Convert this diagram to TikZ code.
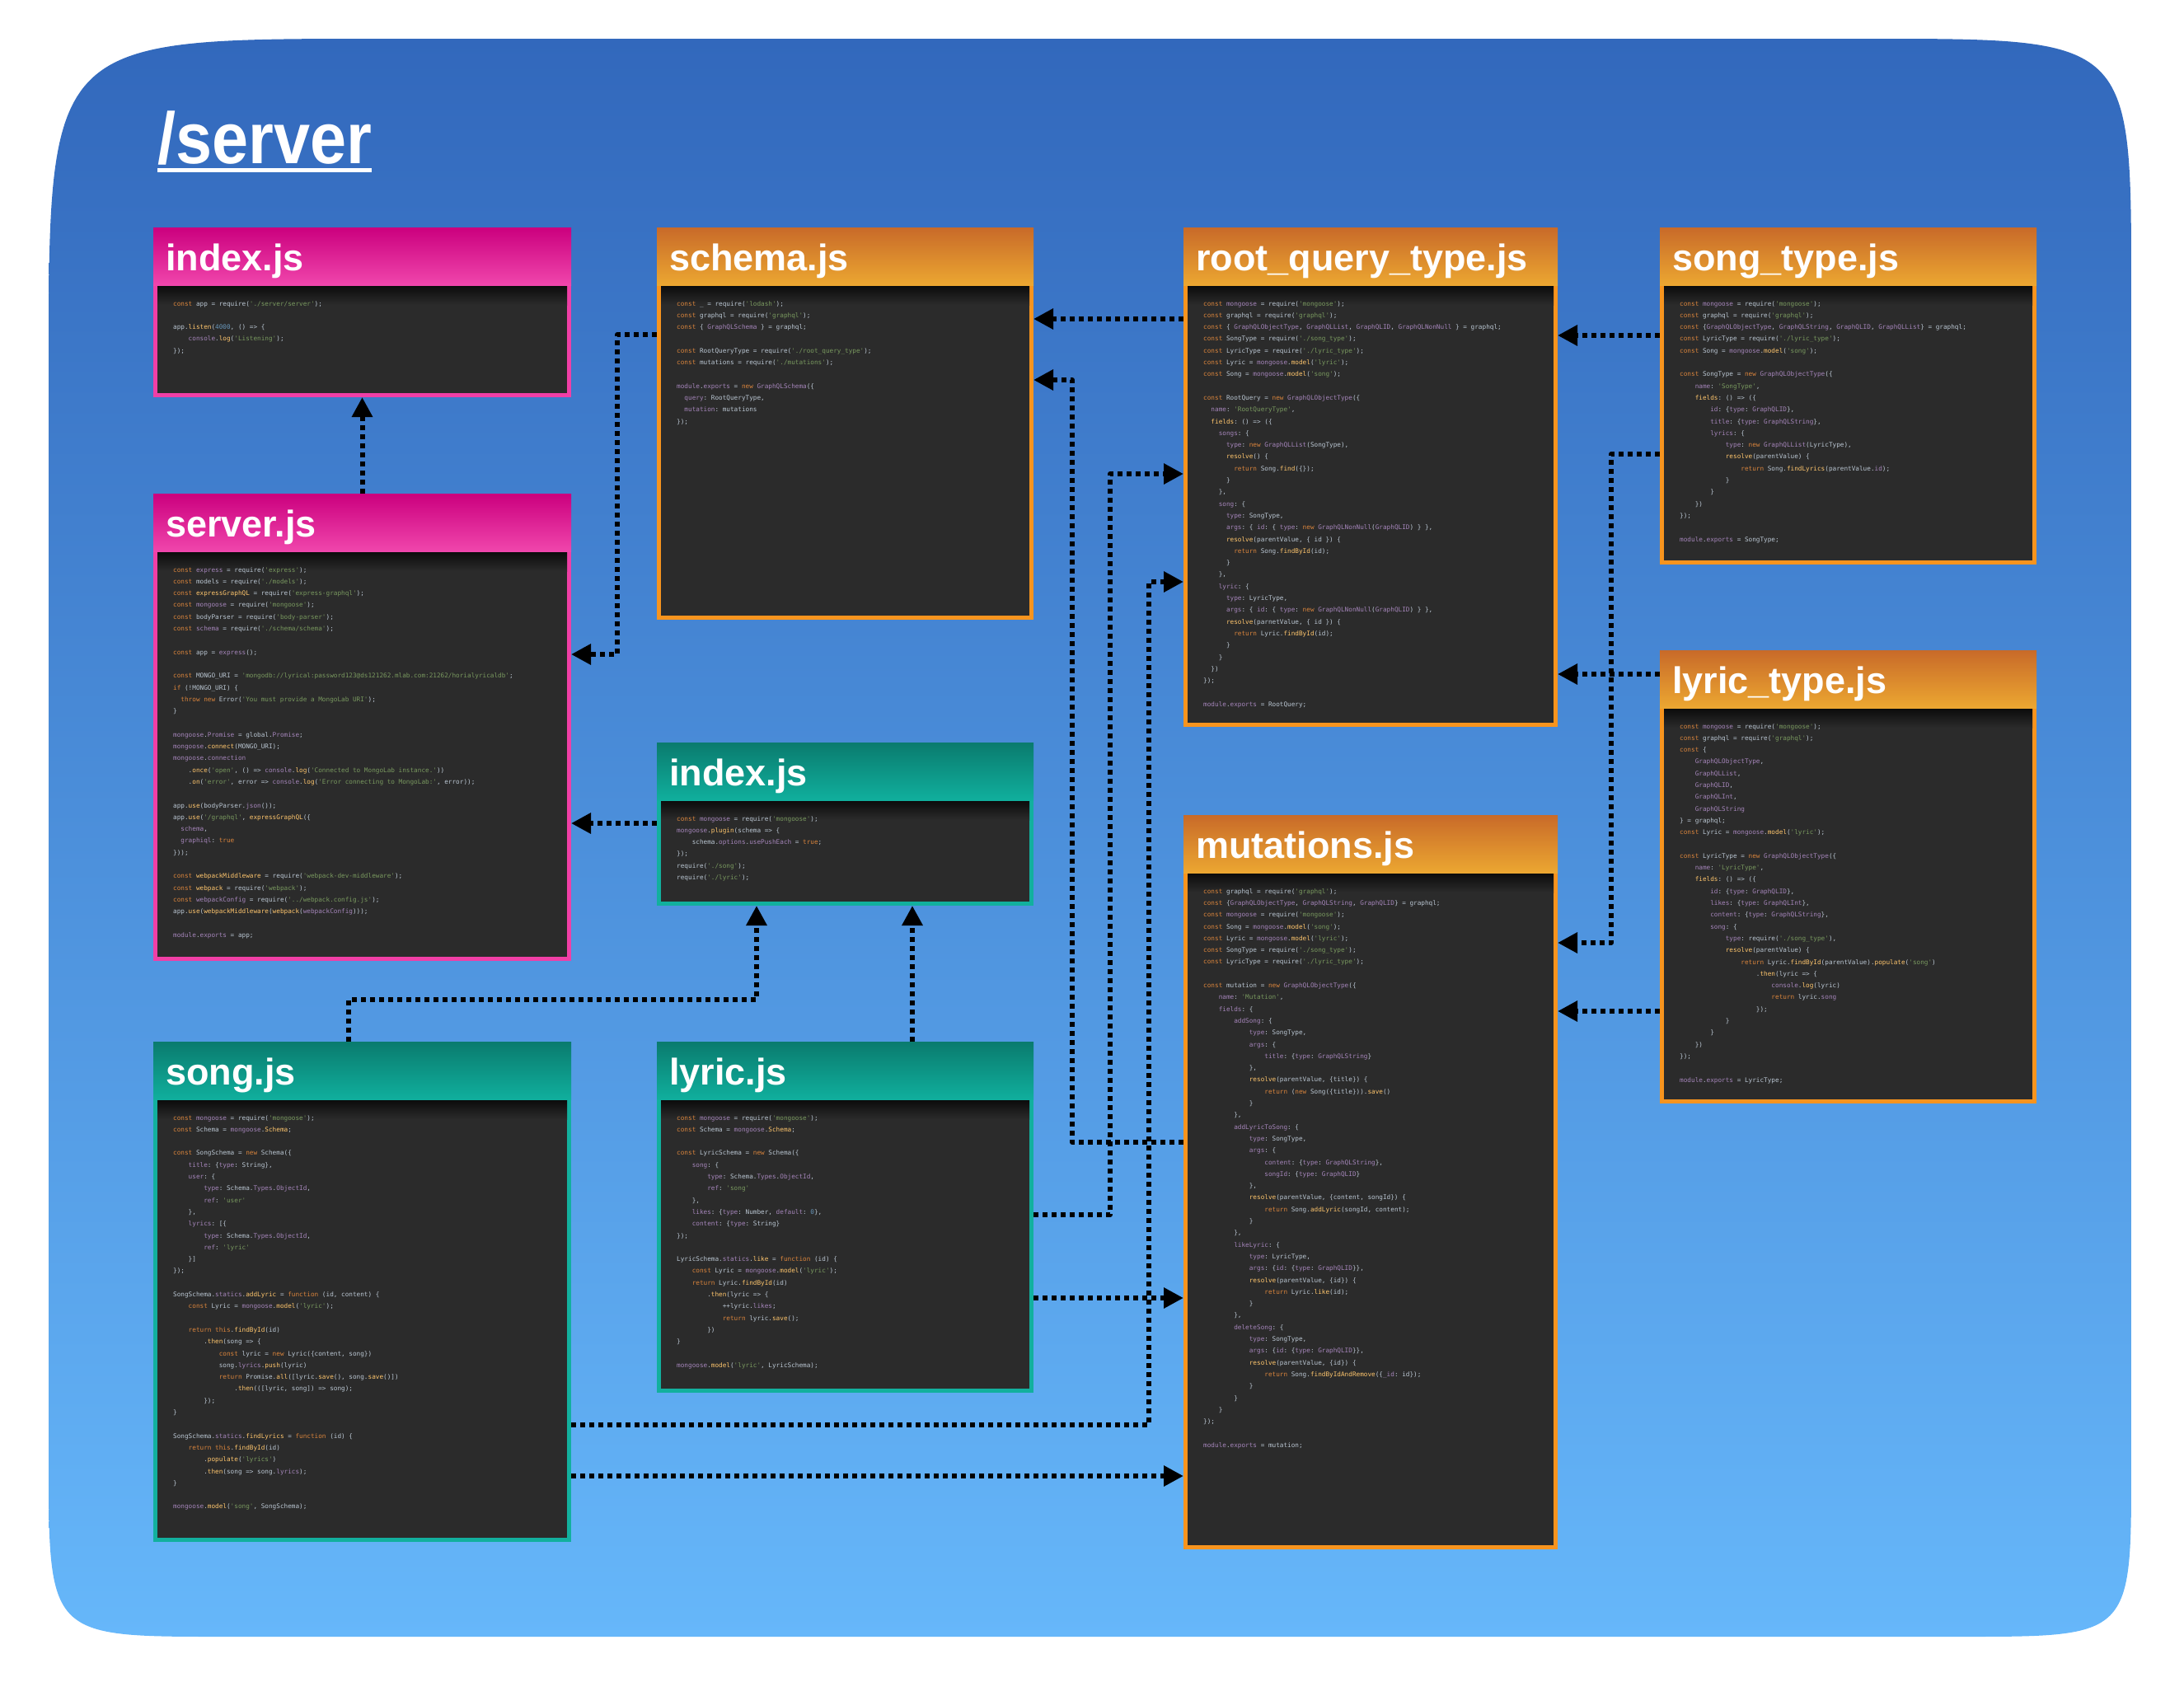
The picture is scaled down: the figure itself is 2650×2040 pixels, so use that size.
\documentclass[tikz,border=0pt]{standalone}
\usepackage{fontspec}
\setmainfont{Liberation Sans}
\setmonofont{DejaVu Sans Mono}
\usetikzlibrary{arrows.meta}

\definecolor{bgtop}{HTML}{3268BC}
\definecolor{bgbot}{HTML}{66B7FA}
\definecolor{codebg}{HTML}{2B2B2B}
\definecolor{pinktop}{HTML}{CB007E}
\definecolor{pinkbot}{HTML}{F046AC}
\definecolor{pinkedge}{HTML}{F03FA6}
\definecolor{orangetop}{HTML}{C86A29}
\definecolor{orangebot}{HTML}{ECA731}
\definecolor{orangeedge}{HTML}{F7941E}
\definecolor{tealtop}{HTML}{0A7B6E}
\definecolor{tealbot}{HTML}{10AF9D}
\definecolor{tealedge}{HTML}{12B09E}
\definecolor{jstx}{HTML}{BAC6D2}
\definecolor{jskw}{HTML}{D9843C}
\definecolor{jspr}{HTML}{A585BA}
\definecolor{jsst}{HTML}{79995F}
\definecolor{jsfn}{HTML}{FFC66D}
\definecolor{jsnm}{HTML}{6897BB}

% code colouring
\newcommand\jk[1]{\textcolor{jskw}{#1}}
\newcommand\jp[1]{\textcolor{jspr}{#1}}
\newcommand\js[1]{\textcolor{jsst}{#1}}
\newcommand\jf[1]{\textcolor{jsfn}{#1}}
\newcommand\jn[1]{\textcolor{jsnm}{#1}}
\newcommand\indt[1]{\hspace*{#1\fontcharwd\font`0}}

% one source file: name, x, y, width, height, colour, title, code
\newcommand\srcfile[8]{%
  \node[filebox, fill=#6edge, minimum width=#4pt, minimum height=#5pt] (#1) at (#2,#3) {};
  \fill[codebg] ([shift={(5pt,5pt)}]#1.south west) rectangle ([shift={(-5pt,-70pt)}]#1.north east);
  \shade[top color=black!75!codebg, bottom color=codebg] ([shift={(5pt,-70pt)}]#1.north west) rectangle ([shift={(-5pt,-94pt)}]#1.north east);
  \shade[top color=#6top, bottom color=#6bot] (#1.north west) rectangle ([yshift=-70pt]#1.north east);
  \node[headtext] (#1title) at ([shift={(15pt,-52pt)}]#1.north west) {#7};
  \node[codetext] (#1code) at ([shift={(24pt,-89pt)}]#1.north west) {#8};
}

\begin{document}
\begin{tikzpicture}[x=1pt, y=-1pt, line join=round,
  filebox/.style={draw=none, inner sep=0pt, outer sep=0pt, anchor=north west},
  headtext/.style={anchor=base west, inner sep=0pt, text=white, font=\fontsize{45}{50}\selectfont\bfseries},
  codetext/.style={anchor=north west, inner sep=0pt, align=left, text=jstx, font=\ttfamily\fontsize{7.7}{14.3}\selectfont},
  link/.style={line width=6pt, dash pattern=on 6pt off 5pt, -{Triangle[length=24pt, width=24pt]}}]
\useasboundingbox (0,0) rectangle (2650,2040);
% folder background
\shade[top color=bgtop, bottom color=bgbot]
  (59,450) .. controls (59,47) .. (460,47) -- (2270,47) .. controls (2586,47) .. (2586,350)
  -- (2586,1780) .. controls (2586,1986) .. (2380,1986) -- (270,1986) .. controls (59,1986) .. (59,1770) -- cycle;
\node[anchor=base west, inner sep=0pt, text=white, font=\fontsize{88}{90}\selectfont\bfseries, xscale=0.9] (dirtitle) at (191,198) {/server};
\draw[white, line width=5pt] ([yshift=-8pt]dirtitle.base west) -- ([yshift=-8pt]dirtitle.base east);

\srcfile{rootindex}{186}{276}{507}{206}{pink}{index.js}{%
\jk{const} app = require(\js{'./server/server'});\\
~\\
app.\jf{listen}(\jn{4000}, () => \{\\
\indt{4}\jp{console}.\jf{log}(\js{'Listening'});\\
\});}

\srcfile{server}{186}{599}{507}{567}{pink}{server.js}{%
\jk{const} \jp{express} = require(\js{'express'});\\
\jk{const} models = require(\js{'./models'});\\
\jk{const} \jf{expressGraphQL} = require(\js{'express-graphql'});\\
\jk{const} \jp{mongoose} = require(\js{'mongoose'});\\
\jk{const} bodyParser = require(\js{'body-parser'});\\
\jk{const} \jp{schema} = require(\js{'./schema/schema'});\\
~\\
\jk{const} app = \jp{express}();\\
~\\
\jk{const} MONGO\_URI = \js{'mongodb://lyrical:password123@ds121262.mlab.com:21262/horialyricaldb'};\\
\jk{if} (!MONGO\_URI) \{\\
\indt{2}\jk{throw new} Error(\js{'You must provide a MongoLab URI'});\\
\}\\
~\\
\jp{mongoose}.\jp{Promise} = global.\jp{Promise};\\
\jp{mongoose}.\jf{connect}(MONGO\_URI);\\
\jp{mongoose}.\jp{connection}\\
\indt{4}.\jf{once}(\js{'open'}, () => \jp{console}.\jf{log}(\js{'Connected to MongoLab instance.'}))\\
\indt{4}.\jf{on}(\js{'error'}, error => \jp{console}.\jf{log}(\js{'Error connecting to MongoLab:'}, error));\\
~\\
app.\jf{use}(bodyParser.\jp{json}());\\
app.\jf{use}(\js{'/graphql'}, \jf{expressGraphQL}(\{\\
\indt{2}\jp{schema},\\
\indt{2}\jp{graphiql}: \jk{true}\\
\}));\\
~\\
\jk{const} \jf{webpackMiddleware} = require(\js{'webpack-dev-middleware'});\\
\jk{const} \jf{webpack} = require(\js{'webpack'});\\
\jk{const} \jp{webpackConfig} = require(\js{'../webpack.config.js'});\\
app.\jf{use}(\jf{webpackMiddleware}(\jf{webpack}(\jp{webpackConfig})));\\
~\\
\jp{module}.\jp{exports} = app;}

\srcfile{schema}{797}{276}{457}{476}{orange}{schema.js}{%
\jk{const} \_ = require(\js{'lodash'});\\
\jk{const} graphql = require(\js{'graphql'});\\
\jk{const} \{ \jp{GraphQLSchema} \} = graphql;\\
~\\
\jk{const} RootQueryType = require(\js{'./root\_query\_type'});\\
\jk{const} mutations = require(\js{'./mutations'});\\
~\\
\jp{module}.\jp{exports} = \jk{new} \jp{GraphQLSchema}(\{\\
\indt{2}\jp{query}: RootQueryType,\\
\indt{2}\jp{mutation}: mutations\\
\});}

\srcfile{rootquery}{1436}{276}{454}{606}{orange}{root\_query\_type.js}{%
\jk{const} \jp{mongoose} = require(\js{'mongoose'});\\
\jk{const} graphql = require(\js{'graphql'});\\
\jk{const} \{ \jp{GraphQLObjectType}, \jp{GraphQLList}, \jp{GraphQLID}, \jp{GraphQLNonNull} \} = graphql;\\
\jk{const} SongType = require(\js{'./song\_type'});\\
\jk{const} LyricType = require(\js{'./lyric\_type'});\\
\jk{const} Lyric = \jp{mongoose}.\jf{model}(\js{'lyric'});\\
\jk{const} Song = \jp{mongoose}.\jf{model}(\js{'song'});\\
~\\
\jk{const} RootQuery = \jk{new} \jp{GraphQLObjectType}(\{\\
\indt{2}\jp{name}: \js{'RootQueryType'},\\
\indt{2}\jf{fields}: () => (\{\\
\indt{4}\jp{songs}: \{\\
\indt{6}\jp{type}: \jk{new} \jp{GraphQLList}(SongType),\\
\indt{6}\jf{resolve}() \{\\
\indt{8}\jk{return} Song.\jf{find}(\{\});\\
\indt{6}\}\\
\indt{4}\},\\
\indt{4}\jp{song}: \{\\
\indt{6}\jp{type}: SongType,\\
\indt{6}\jp{args}: \{ \jp{id}: \{ \jp{type}: \jk{new} \jp{GraphQLNonNull}(\jp{GraphQLID}) \} \},\\
\indt{6}\jf{resolve}(parentValue, \{ id \}) \{\\
\indt{8}\jk{return} Song.\jf{findById}(id);\\
\indt{6}\}\\
\indt{4}\},\\
\indt{4}\jp{lyric}: \{\\
\indt{6}\jp{type}: LyricType,\\
\indt{6}\jp{args}: \{ \jp{id}: \{ \jp{type}: \jk{new} \jp{GraphQLNonNull}(\jp{GraphQLID}) \} \},\\
\indt{6}\jf{resolve}(parnetValue, \{ id \}) \{\\
\indt{8}\jk{return} Lyric.\jf{findById}(id);\\
\indt{6}\}\\
\indt{4}\}\\
\indt{2}\})\\
\});\\
~\\
\jp{module}.\jp{exports} = RootQuery;}

\srcfile{songtype}{2014}{276}{457}{409}{orange}{song\_type.js}{%
\jk{const} \jp{mongoose} = require(\js{'mongoose'});\\
\jk{const} graphql = require(\js{'graphql'});\\
\jk{const} \{\jp{GraphQLObjectType}, \jp{GraphQLString}, \jp{GraphQLID}, \jp{GraphQLList}\} = graphql;\\
\jk{const} LyricType = require(\js{'./lyric\_type'});\\
\jk{const} Song = \jp{mongoose}.\jf{model}(\js{'song'});\\
~\\
\jk{const} SongType = \jk{new} \jp{GraphQLObjectType}(\{\\
\indt{4}\jp{name}: \js{'SongType'},\\
\indt{4}\jf{fields}: () => (\{\\
\indt{8}\jp{id}: \{\jp{type}: \jp{GraphQLID}\},\\
\indt{8}\jp{title}: \{\jp{type}: \jp{GraphQLString}\},\\
\indt{8}\jp{lyrics}: \{\\
\indt{12}\jp{type}: \jk{new} \jp{GraphQLList}(LyricType),\\
\indt{12}\jf{resolve}(parentValue) \{\\
\indt{16}\jk{return} Song.\jf{findLyrics}(parentValue.\jp{id});\\
\indt{12}\}\\
\indt{8}\}\\
\indt{4}\})\\
\});\\
~\\
\jp{module}.\jp{exports} = SongType;}

\srcfile{lyrictype}{2014}{789}{457}{550}{orange}{lyric\_type.js}{%
\jk{const} \jp{mongoose} = require(\js{'mongoose'});\\
\jk{const} graphql = require(\js{'graphql'});\\
\jk{const} \{\\
\indt{4}\jp{GraphQLObjectType},\\
\indt{4}\jp{GraphQLList},\\
\indt{4}\jp{GraphQLID},\\
\indt{4}\jp{GraphQLInt},\\
\indt{4}\jp{GraphQLString}\\
\} = graphql;\\
\jk{const} Lyric = \jp{mongoose}.\jf{model}(\js{'lyric'});\\
~\\
\jk{const} LyricType = \jk{new} \jp{GraphQLObjectType}(\{\\
\indt{4}\jp{name}: \js{'LyricType'},\\
\indt{4}\jf{fields}: () => (\{\\
\indt{8}\jp{id}: \{\jp{type}: \jp{GraphQLID}\},\\
\indt{8}\jp{likes}: \{\jp{type}: \jp{GraphQLInt}\},\\
\indt{8}\jp{content}: \{\jp{type}: \jp{GraphQLString}\},\\
\indt{8}\jp{song}: \{\\
\indt{12}\jp{type}: require(\js{'./song\_type'}),\\
\indt{12}\jf{resolve}(parentValue) \{\\
\indt{16}\jk{return} Lyric.\jf{findById}(parentValue).\jf{populate}(\js{'song'})\\
\indt{20}.\jf{then}(lyric => \{\\
\indt{24}\jp{console}.\jf{log}(lyric)\\
\indt{24}\jk{return} lyric.\jp{song}\\
\indt{20}\});\\
\indt{12}\}\\
\indt{8}\}\\
\indt{4}\})\\
\});\\
~\\
\jp{module}.\jp{exports} = LyricType;}

\srcfile{mutations}{1436}{989}{454}{891}{orange}{mutations.js}{%
\jk{const} graphql = require(\js{'graphql'});\\
\jk{const} \{\jp{GraphQLObjectType}, \jp{GraphQLString}, \jp{GraphQLID}\} = graphql;\\
\jk{const} \jp{mongoose} = require(\js{'mongoose'});\\
\jk{const} Song = \jp{mongoose}.\jf{model}(\js{'song'});\\
\jk{const} Lyric = \jp{mongoose}.\jf{model}(\js{'lyric'});\\
\jk{const} SongType = require(\js{'./song\_type'});\\
\jk{const} LyricType = require(\js{'./lyric\_type'});\\
~\\
\jk{const} mutation = \jk{new} \jp{GraphQLObjectType}(\{\\
\indt{4}\jp{name}: \js{'Mutation'},\\
\indt{4}\jp{fields}: \{\\
\indt{8}\jp{addSong}: \{\\
\indt{12}\jp{type}: SongType,\\
\indt{12}\jp{args}: \{\\
\indt{16}\jp{title}: \{\jp{type}: \jp{GraphQLString}\}\\
\indt{12}\},\\
\indt{12}\jf{resolve}(parentValue, \{title\}) \{\\
\indt{16}\jk{return} (\jk{new} Song(\{title\})).\jf{save}()\\
\indt{12}\}\\
\indt{8}\},\\
\indt{8}\jp{addLyricToSong}: \{\\
\indt{12}\jp{type}: SongType,\\
\indt{12}\jp{args}: \{\\
\indt{16}\jp{content}: \{\jp{type}: \jp{GraphQLString}\},\\
\indt{16}\jp{songId}: \{\jp{type}: \jp{GraphQLID}\}\\
\indt{12}\},\\
\indt{12}\jf{resolve}(parentValue, \{content, songId\}) \{\\
\indt{16}\jk{return} Song.\jf{addLyric}(songId, content);\\
\indt{12}\}\\
\indt{8}\},\\
\indt{8}\jp{likeLyric}: \{\\
\indt{12}\jp{type}: LyricType,\\
\indt{12}\jp{args}: \{\jp{id}: \{\jp{type}: \jp{GraphQLID}\}\},\\
\indt{12}\jf{resolve}(parentValue, \{id\}) \{\\
\indt{16}\jk{return} Lyric.\jf{like}(id);\\
\indt{12}\}\\
\indt{8}\},\\
\indt{8}\jp{deleteSong}: \{\\
\indt{12}\jp{type}: SongType,\\
\indt{12}\jp{args}: \{\jp{id}: \{\jp{type}: \jp{GraphQLID}\}\},\\
\indt{12}\jf{resolve}(parentValue, \{id\}) \{\\
\indt{16}\jk{return} Song.\jf{findByIdAndRemove}(\{\jp{\_id}: id\});\\
\indt{12}\}\\
\indt{8}\}\\
\indt{4}\}\\
\});\\
~\\
\jp{module}.\jp{exports} = mutation;}

\srcfile{modelindex}{797}{901}{457}{198}{teal}{index.js}{%
\jk{const} \jp{mongoose} = require(\js{'mongoose'});\\
\jp{mongoose}.\jf{plugin}(schema => \{\\
\indt{4}schema.\jp{options}.\jp{usePushEach} = \jk{true};\\
\});\\
require(\js{'./song'});\\
require(\js{'./lyric'});}

\srcfile{song}{186}{1264}{507}{607}{teal}{song.js}{%
\jk{const} \jp{mongoose} = require(\js{'mongoose'});\\
\jk{const} Schema = \jp{mongoose}.\jf{Schema};\\
~\\
\jk{const} SongSchema = \jk{new} Schema(\{\\
\indt{4}\jp{title}: \{\jp{type}: String\},\\
\indt{4}\jp{user}: \{\\
\indt{8}\jp{type}: Schema.\jp{Types}.\jp{ObjectId},\\
\indt{8}\jp{ref}: \js{'user'}\\
\indt{4}\},\\
\indt{4}\jp{lyrics}: [\{\\
\indt{8}\jp{type}: Schema.\jp{Types}.\jp{ObjectId},\\
\indt{8}\jp{ref}: \js{'lyric'}\\
\indt{4}\}]\\
\});\\
~\\
SongSchema.\jp{statics}.\jf{addLyric} = \jk{function} (id, content) \{\\
\indt{4}\jk{const} Lyric = \jp{mongoose}.\jf{model}(\js{'lyric'});\\
~\\
\indt{4}\jk{return this}.\jf{findById}(id)\\
\indt{8}.\jf{then}(song => \{\\
\indt{12}\jk{const} lyric = \jk{new} Lyric(\{content, song\})\\
\indt{12}song.\jp{lyrics}.\jf{push}(lyric)\\
\indt{12}\jk{return} Promise.\jf{all}([lyric.\jf{save}(), song.\jf{save}()])\\
\indt{16}.\jf{then}(([lyric, song]) => song);\\
\indt{8}\});\\
\}\\
~\\
SongSchema.\jp{statics}.\jf{findLyrics} = \jk{function} (id) \{\\
\indt{4}\jk{return this}.\jf{findById}(id)\\
\indt{8}.\jf{populate}(\js{'lyrics'})\\
\indt{8}.\jf{then}(song => song.\jp{lyrics});\\
\}\\
~\\
\jp{mongoose}.\jf{model}(\js{'song'}, SongSchema);}

\srcfile{lyric}{797}{1264}{457}{426}{teal}{lyric.js}{%
\jk{const} \jp{mongoose} = require(\js{'mongoose'});\\
\jk{const} Schema = \jp{mongoose}.\jf{Schema};\\
~\\
\jk{const} LyricSchema = \jk{new} Schema(\{\\
\indt{4}\jp{song}: \{\\
\indt{8}\jp{type}: Schema.\jp{Types}.\jp{ObjectId},\\
\indt{8}\jp{ref}: \js{'song'}\\
\indt{4}\},\\
\indt{4}\jp{likes}: \{\jp{type}: Number, \jp{default}: \jn{0}\},\\
\indt{4}\jp{content}: \{\jp{type}: String\}\\
\});\\
~\\
LyricSchema.\jp{statics}.\jf{like} = \jk{function} (id) \{\\
\indt{4}\jk{const} Lyric = \jp{mongoose}.\jf{model}(\js{'lyric'});\\
\indt{4}\jk{return} Lyric.\jf{findById}(id)\\
\indt{8}.\jf{then}(lyric => \{\\
\indt{12}++lyric.\jp{likes};\\
\indt{12}\jk{return} lyric.\jf{save}();\\
\indt{8}\})\\
\}\\
~\\
\jp{mongoose}.\jf{model}(\js{'lyric'}, LyricSchema);}

% requires
\draw[link] (server.north) -- (rootindex.south);
\draw[link] (schema.west |- 0,406) -- (749,406) |- (server.east |- 0,794);
\draw[link] (modelindex.west |- 0,999) -- (server.east |- 0,999);
\draw[link] (rootquery.west |- 0,387) -- (schema.east |- 0,387);
\draw[link] (mutations.west |- 0,1386) -- (1301,1386) |- (schema.east |- 0,461);
\draw[link] (songtype.west |- 0,407) -- (rootquery.east |- 0,407);
\draw[link] (lyrictype.west |- 0,818) -- (rootquery.east |- 0,818);
\draw[link] (songtype.west |- 0,551) -- (1955,551) |- (mutations.east |- 0,1144);
\draw[link] (lyrictype.west |- 0,1227) -- (mutations.east |- 0,1227);
\draw[link] (song.north -| 423,0) -- (423,1213) -| (modelindex.south -| 918,0);
\draw[link] (lyric.north -| 1107,0) -- (modelindex.south -| 1107,0);
\draw[link] (lyric.east |- 0,1474) -- (1347,1474) |- (rootquery.west |- 0,575);
\draw[link] (lyric.east |- 0,1575) -- (mutations.west |- 0,1575);
\draw[link] (song.east |- 0,1729) -- (1394,1729) |- (rootquery.west |- 0,706);
\draw[link] (song.east |- 0,1791) -- (mutations.west |- 0,1791);
\end{tikzpicture}
\end{document}
